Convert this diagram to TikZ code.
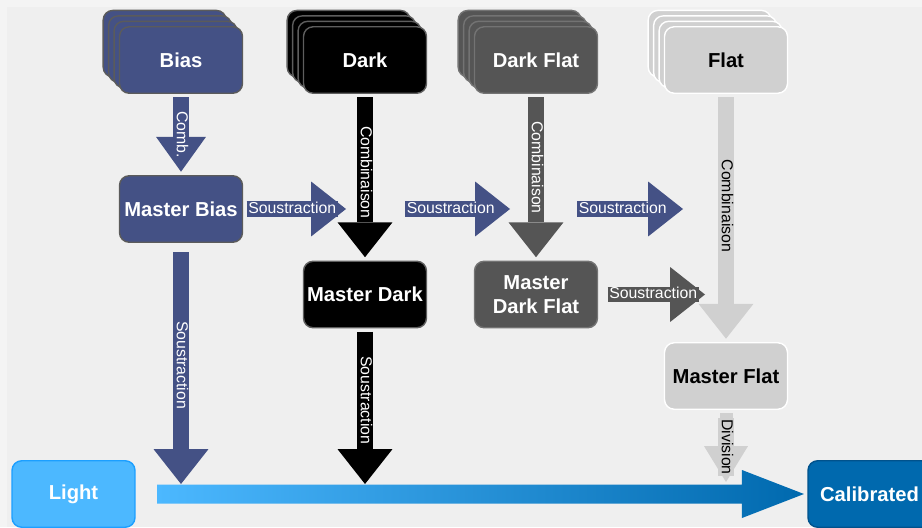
\documentclass[tikz,border=0pt]{standalone}
\usepackage{fontspec}
\setmainfont{Liberation Sans}
\usetikzlibrary{arrows.meta,shadows,calc}

\definecolor{pagerim}{HTML}{F4F4F4}
\definecolor{pagebg}{HTML}{EFEFEF}
\definecolor{biasblue}{HTML}{445185}
\definecolor{biasline}{HTML}{5B5B5B}
\definecolor{darkline}{HTML}{5E5E5E}
\definecolor{dflatgray}{HTML}{555555}
\definecolor{dflatline}{HTML}{737373}
\definecolor{flatgray}{HTML}{D0D0D0}
\definecolor{lightblue}{HTML}{4CB8FF}
\definecolor{lightline}{HTML}{1C9FFF}
\definecolor{calibblue}{HTML}{0069AE}
\definecolor{calibline}{HTML}{00528C}

\tikzset{
  box/.style={rounded corners=5.5pt, minimum width=2.46cm, minimum height=1.33cm,
    inner xsep=1pt, line width=0.8pt, align=center, outer sep=2.3pt,
    font=\fontsize{11.5}{14}\selectfont\bfseries},
  tile/.style n args={3}{box, fill=#1, draw=#2, text=#3},
  pile/.style n args={3}{tile={#1}{#2}{#3},
    copy shadow={shadow xshift=-9.3pt, shadow yshift=9.3pt, fill=#1, draw=#2, line width=0.8pt},
    copy shadow={shadow xshift=-6.2pt, shadow yshift=6.2pt, fill=#1, draw=#2, line width=0.8pt},
    copy shadow={shadow xshift=-3.1pt, shadow yshift=3.1pt, fill=#1, draw=#2, line width=0.8pt}},
  flow/.style={line width=9.1pt, draw=#1,
    -{Triangle[width=31.2pt, length=19.8pt, line width=0pt]}},
  lab/.style 2 args={fill=#1, text=#2, inner xsep=1pt, inner ysep=0.3pt, outer sep=0pt,
    text height=6.6pt, text depth=1.9pt, font=\fontsize{9}{10}\selectfont},
}

\begin{document}
\begin{tikzpicture}[x=0.02cm, y=-0.02cm]
  \useasboundingbox (0,0) rectangle (922,527);
  \fill[pagerim] (0,0) rectangle (922,527);
  \fill[pagebg] (7,7) rectangle (922,527);

  % raw frames
  \node[pile={biasblue}{biasline}{white}] (bias) at (181,60) {Bias};
  \node[pile={black}{darkline}{white}] (dark) at (365,60) {Dark};
  \node[pile={dflatgray}{dflatline}{white}] (dflat) at (536,60) {Dark Flat};
  \node[pile={flatgray}{white}{black}] (flat) at (726,60) {Flat};

  % masters
  \node[tile={biasblue}{biasline}{white}] (mbias) at (181,209) {Master Bias};
  \node[tile={black}{darkline}{white}] (mdark) at (365,294.5) {Master Dark};
  \node[tile={dflatgray}{dflatline}{white}] (mdflat) at (536,294.5) {Master\\Dark Flat};
  \node[tile={flatgray}{white}{black}] (mflat) at (726,376) {Master Flat};

  \node[tile={lightblue}{lightline}{white}] (light) at (73.5,494) {Light};
  \node[tile={calibblue}{calibline}{white}] (calib) at (869.5,494) {Calibrated};

  \coordinate (s1end) at (346,209);
  \coordinate (s2beg) at (405,209);
  \coordinate (s2end) at (510,209);
  \coordinate (s3beg) at (577,209);
  \coordinate (s3end) at (683,209);
  \coordinate (sdend) at (705,294.5);
  \coordinate (hitb) at (181,484);
  \coordinate (hitd) at (365,484);
  \coordinate (hitf) at (726,482);
  \coordinate (bar0) at ($(light.east)+(18,0)$);
  \coordinate (bar1) at (calib.west);

  % main bar
  \shade[left color=lightblue, right color=calibblue]
    ($(bar0)+(0,-9.5)$) -- ($(bar1)+(-62,-9.5)$) -- ($(bar1)+(-62,-24)$) -- (bar1)
    -- ($(bar1)+(-62,24)$) -- ($(bar1)+(-62,9.5)$) -- ($(bar0)+(0,9.5)$) -- cycle;

  % combinations
  \draw[flow=biasblue, -{Triangle[width=28.4pt, length=19.8pt, line width=0pt]}]
    (bias) -- node[lab={biasblue}{white}, rotate=-90] {Comb.} (mbias);
  \draw[flow=black] (dark) -- node[lab={black}{white}, rotate=-90, pos=0.47] {Combinaison} (mdark);
  \draw[flow=dflatgray] (dflat) -- node[lab={dflatgray}{white}, rotate=-90, pos=0.44] {Combinaison} (mdflat);
  \draw[flow=flatgray] (flat) -- node[lab={flatgray}{black}, rotate=-90, pos=0.45] {Combinaison} (mflat);

  % subtractions
  \draw[flow=biasblue] (mbias) -- node[lab={biasblue}{white}, pos=0, anchor=west] {Soustraction} (s1end);
  \draw[flow=biasblue] (s2beg) -- node[lab={biasblue}{white}, pos=0, anchor=west] {Soustraction} (s2end);
  \draw[flow=biasblue] (s3beg) -- node[lab={biasblue}{white}, pos=0, anchor=west] {Soustraction} (s3end);
  \draw[flow=dflatgray, shorten <=3.4pt] (mdflat) -- node[lab={dflatgray}{white}, pos=0, anchor=west, xshift=3.4pt] {Soustraction} (sdend);
  \draw[flow=biasblue, shorten <=3.4pt] (mbias) -- node[lab={biasblue}{white}, rotate=-90, pos=0.5] {Soustraction} (hitb);
  \draw[flow=black] (mdark) -- node[lab={black}{white}, rotate=-90, pos=0.45] {Soustraction} (hitd);
  \draw[flow=flatgray, line width=7.4pt, -{Triangle[width=25pt, length=20.4pt, line width=0pt]}]
    (mflat) -- node[lab={flatgray}{black}, rotate=-90, pos=0.49] {Division} (hitf);
\end{tikzpicture}
\end{document}
